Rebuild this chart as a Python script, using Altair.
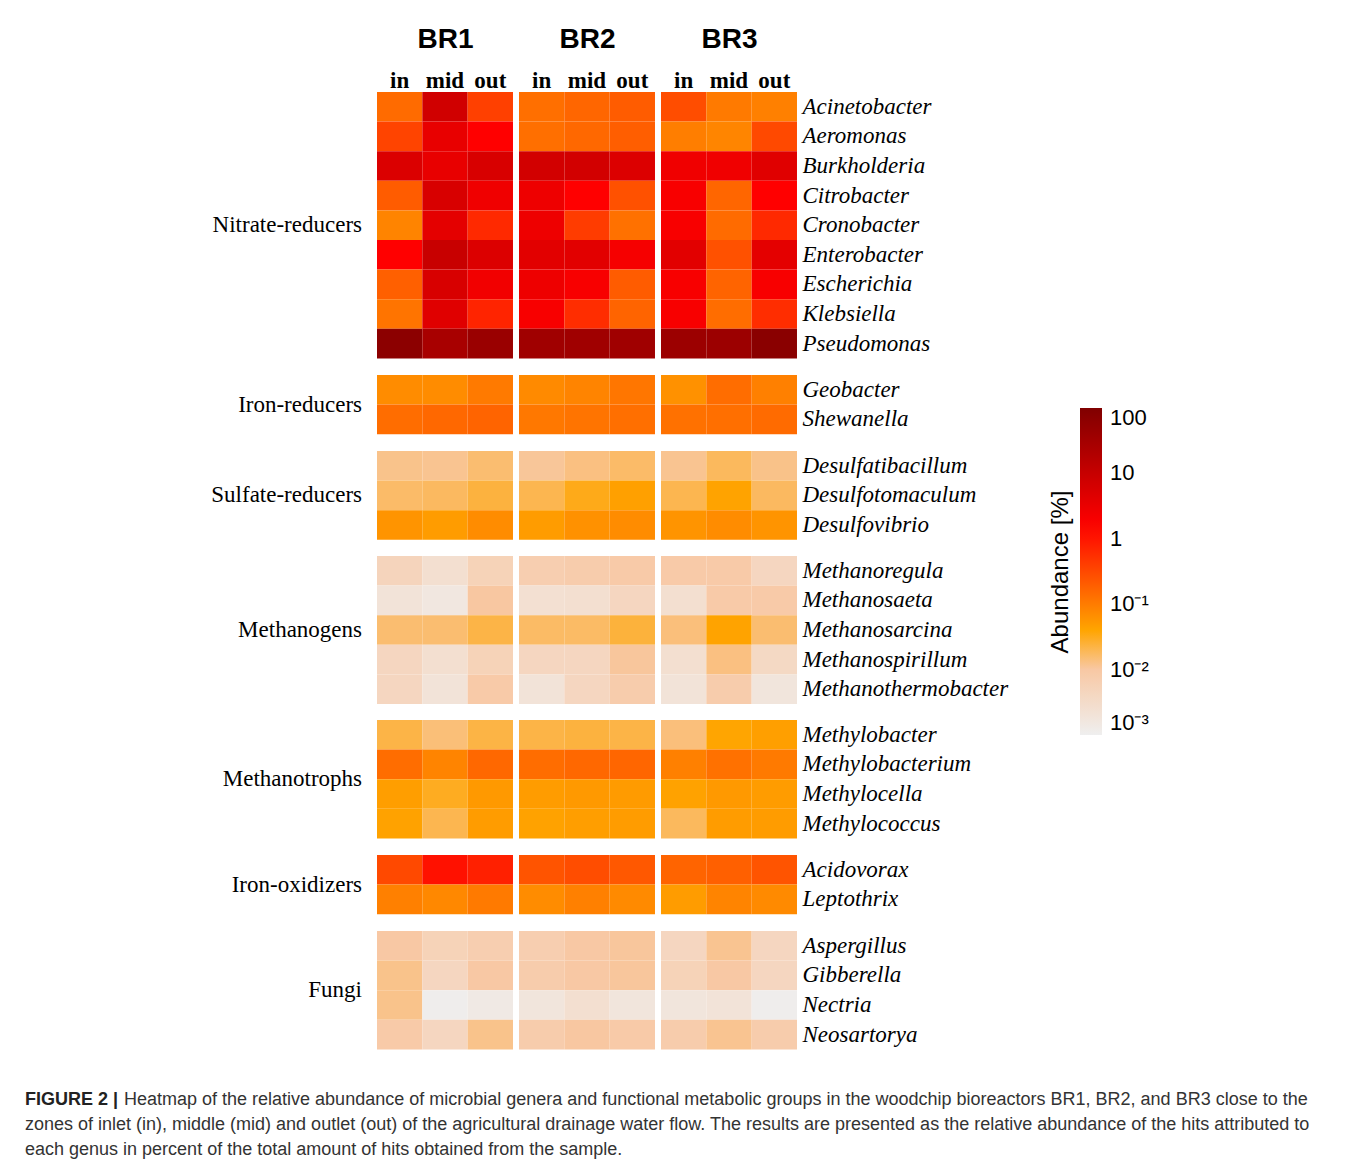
import altair as alt
import pandas as pd

reactors = ["BR1", "BR2", "BR3"]
zones = ["in", "mid", "out"]
groups = ["Nitrate-reducers", "Iron-reducers", "Sulfate-reducers", "Methanogens",
          "Methanotrophs", "Iron-oxidizers", "Fungi"]

nitrate_genera = ["Acinetobacter", "Aeromonas", "Burkholderia", "Citrobacter", "Cronobacter",
                  "Enterobacter", "Escherichia", "Klebsiella", "Pseudomonas"]
iron_red_genera = ["Geobacter", "Shewanella"]
sulfate_genera = ["Desulfatibacillum", "Desulfotomaculum", "Desulfovibrio"]
methanogen_genera = ["Methanoregula", "Methanosaeta", "Methanosarcina", "Methanospirillum",
                     "Methanothermobacter"]
methanotroph_genera = ["Methylobacter", "Methylobacterium", "Methylocella", "Methylococcus"]
iron_ox_genera = ["Acidovorax", "Leptothrix"]
fungi_genera = ["Aspergillus", "Gibberella", "Nectria", "Neosartorya"]

# log10 of abundance [%]; order: BR1 in/mid/out, BR2 in/mid/out, BR3 in/mid/out
nitrate_log = [
    [-0.83, 0.87, -0.42, -0.87, -0.79, -0.69, -0.54, -0.98, -1.04],
    [-0.46, 0.53, 0.20, -0.87, -0.81, -0.71, -1.02, -1.09, -0.50],
    [0.72, 0.53, 0.75, 0.84, 0.84, 0.70, 0.41, 0.41, 0.64],
    [-0.69, 0.75, 0.41, 0.44, 0.20, -0.58, 0.30, -0.79, 0.20],
    [-1.08, 0.58, -0.19, 0.44, -0.38, -0.89, 0.30, -0.83, -0.19],
    [0.20, 0.98, 0.70, 0.61, 0.61, 0.33, 0.61, -0.58, 0.58],
    [-0.73, 0.75, 0.39, 0.44, 0.30, -0.69, 0.30, -0.77, 0.30],
    [-0.92, 0.64, -0.15, 0.30, -0.23, -0.77, 0.30, -0.85, -0.23],
    [1.83, 1.43, 1.63, 1.55, 1.55, 1.55, 1.60, 1.60, 1.86],
]
iron_red_log = [
    [-1.16, -1.16, -0.98, -1.14, -1.08, -0.94, -1.20, -0.85, -1.04],
    [-0.85, -0.81, -0.77, -0.96, -0.92, -0.87, -0.89, -0.87, -0.83],
]
sulfate_log = [
    [-1.91, -1.93, -1.81, -1.96, -1.87, -1.78, -1.93, -1.74, -1.90],
    [-1.78, -1.75, -1.63, -1.69, -1.49, -1.35, -1.69, -1.38, -1.75],
    [-1.23, -1.31, -1.16, -1.31, -1.20, -1.16, -1.23, -1.16, -1.23],
]
methanogen_log = [
    [-2.32, -2.59, -2.27, -2.16, -2.11, -2.05, -2.05, -2.05, -2.37],
    [-2.69, -2.80, -1.99, -2.61, -2.59, -2.37, -2.59, -2.05, -2.05],
    [-1.81, -1.81, -1.66, -1.77, -1.77, -1.62, -1.85, -1.38, -1.81],
    [-2.37, -2.59, -2.27, -2.37, -2.37, -1.97, -2.59, -1.87, -2.43],
    [-2.37, -2.69, -2.05, -2.69, -2.37, -2.11, -2.69, -2.11, -2.75],
]
methanotroph_log = [
    [-1.66, -1.84, -1.65, -1.66, -1.63, -1.66, -1.85, -1.40, -1.34],
    [-0.85, -1.08, -0.81, -0.85, -0.81, -0.79, -1.04, -0.89, -0.98],
    [-1.33, -1.52, -1.28, -1.31, -1.28, -1.30, -1.37, -1.28, -1.31],
    [-1.37, -1.69, -1.31, -1.37, -1.33, -1.31, -1.74, -1.31, -1.31],
]
iron_ox_log = [
    [-0.50, 0.04, -0.11, -0.61, -0.54, -0.65, -0.77, -0.73, -0.61],
    [-1.04, -1.12, -0.98, -1.16, -1.04, -1.14, -1.31, -1.08, -1.14],
]
fungi_log = [
    [-2.00, -2.27, -2.16, -2.16, -2.00, -1.97, -2.37, -1.93, -2.37],
    [-1.91, -2.37, -2.00, -2.11, -2.00, -1.97, -2.27, -2.00, -2.37],
    [-1.91, -2.96, -2.85, -2.75, -2.59, -2.75, -2.75, -2.69, -2.96],
    [-2.05, -2.37, -1.91, -2.11, -1.99, -2.05, -2.11, -1.93, -2.11],
]

group_genera = [nitrate_genera, iron_red_genera, sulfate_genera, methanogen_genera,
                methanotroph_genera, iron_ox_genera, fungi_genera]
group_values = [nitrate_log, iron_red_log, sulfate_log, methanogen_log,
                methanotroph_log, iron_ox_log, fungi_log]

legend_values = [0.001, 0.01, 0.1, 1, 10, 100]

caption_bold = "FIGURE 2 |"
caption_lines = [
    "Heatmap of the relative abundance of microbial genera and functional metabolic groups in the woodchip bioreactors BR1, BR2, and BR3 close to the",
    "zones of inlet (in), middle (mid) and outlet (out) of the agricultural drainage water flow. The results are presented as the relative abundance of the hits attributed to",
    "each genus in percent of the total amount of hits obtained from the sample.",
]

rows = []
for g, genera, vals in zip(groups, group_genera, group_values):
    for genus, v in zip(genera, vals):
        for i, r in enumerate(reactors):
            for j, z in enumerate(zones):
                rows.append({"group": g, "genus": genus, "reactor": r, "zone": z,
                             "abundance": 10 ** v[i * 3 + j]})
df = pd.DataFrame(rows)
all_genera = [x for gl in group_genera for x in gl]

color_scale = alt.Scale(
    type="log",
    domain=[0.001, 0.01, 0.04, 1.6, 100],
    range=["#efefef", "#f8c8a4", "#ffa500", "#ff0000", "#800000"],
    interpolate="rgb",
)

SERIF = "Liberation Serif"
SANS = "Liberation Sans"


def panel(br, first, last):
    y_axis = alt.Axis(orient="right", title=None, ticks=False, domain=False,
                      labelFont=SERIF, labelFontStyle="italic", labelFontSize=23,
                      labelColor="black", labelPadding=5, labelLimit=300) if last else None
    enc_y = alt.Y("genus:N", sort=all_genera,
                  scale=alt.Scale(paddingInner=0, paddingOuter=0), axis=y_axis)
    base = alt.Chart(df[df.reactor == br]).mark_rect(strokeWidth=0).encode(
        x=alt.X("zone:N", sort=zones, scale=alt.Scale(paddingInner=0, paddingOuter=0),
                axis=alt.Axis(orient="top", title=br, ticks=False, domain=False, labelAngle=0,
                              labelFont=SERIF, labelFontWeight="bold", labelFontSize=23,
                              labelColor="black", labelPadding=0,
                              titleFont=SANS, titleFontWeight="bold", titleFontSize=28,
                              titleColor="black", titlePadding=16)),
        y=enc_y,
        color=alt.Color("abundance:Q", scale=color_scale,
                        legend=alt.Legend(
                            title="Abundance [%]", orient="none", legendX=672, legendY=316,
                            direction="vertical", gradientLength=327, gradientThickness=22,
                            gradientStrokeWidth=0, titleOrient="left",
                            titleFont=SANS, titleFontSize=24, titleFontWeight="normal",
                            titleColor="black", titleAnchor="middle", titlePadding=6,
                            labelFont=SANS, labelFontSize=22, labelColor="black",
                            values=legend_values, labelOffset=8,
                            labelExpr="datum.value >= 100 ? '100' : datum.value >= 10 ? '10' : datum.value >= 1 ? '1' : datum.value >= 0.09 ? '10⁻¹' : datum.value >= 0.009 ? '10⁻²' : '10⁻³'")),
    ).properties(width=alt.Step(45.33), height=alt.Step(29.6))
    header = alt.Header(title=None, labels=first, labelAngle=0, labelOrient="left",
                        labelAlign="left", labelFont=SERIF, labelFontSize=23,
                        labelColor="black", labelPadding=15)
    return base.facet(
        row=alt.Row("group:N", sort=groups, header=header), spacing=16
    ).resolve_scale(y="independent")


heat = alt.hconcat(panel("BR1", True, False), panel("BR2", False, False),
                   panel("BR3", False, True), spacing=6)

cap_df = pd.DataFrame({"line": [0, 1, 2], "text": caption_lines})
cap_y = alt.Y("line:O", axis=None, scale=alt.Scale(type="point", padding=0))
cap_base = alt.Chart(cap_df).encode(y=cap_y, text="text:N")
cap_first = cap_base.transform_filter("datum.line == 0").mark_text(
    align="left", baseline="middle", font=SANS, fontSize=18, color="#333333"
).encode(x=alt.value(-253))
cap_rest = cap_base.transform_filter("datum.line > 0").mark_text(
    align="left", baseline="middle", font=SANS, fontSize=18, color="#333333"
).encode(x=alt.value(-352))
cap_bold_df = pd.DataFrame({"line": [0], "text": [caption_bold]})
cap_b = alt.Chart(cap_bold_df).mark_text(
    align="left", baseline="middle", font=SANS, fontSize=18, fontWeight="bold", color="#222222"
).encode(y=cap_y, text="text:N", x=alt.value(-352))
caption = alt.layer(cap_rest, cap_first, cap_b).properties(width=500, height=50)

chart = alt.vconcat(heat, caption, spacing=41).resolve_scale(color="shared").configure_view(
    stroke=None
).properties(padding={"left": 17, "top": 17, "right": 5, "bottom": 0})

chart.save("out.html", embed_options={"renderer": "svg", "actions": False})
